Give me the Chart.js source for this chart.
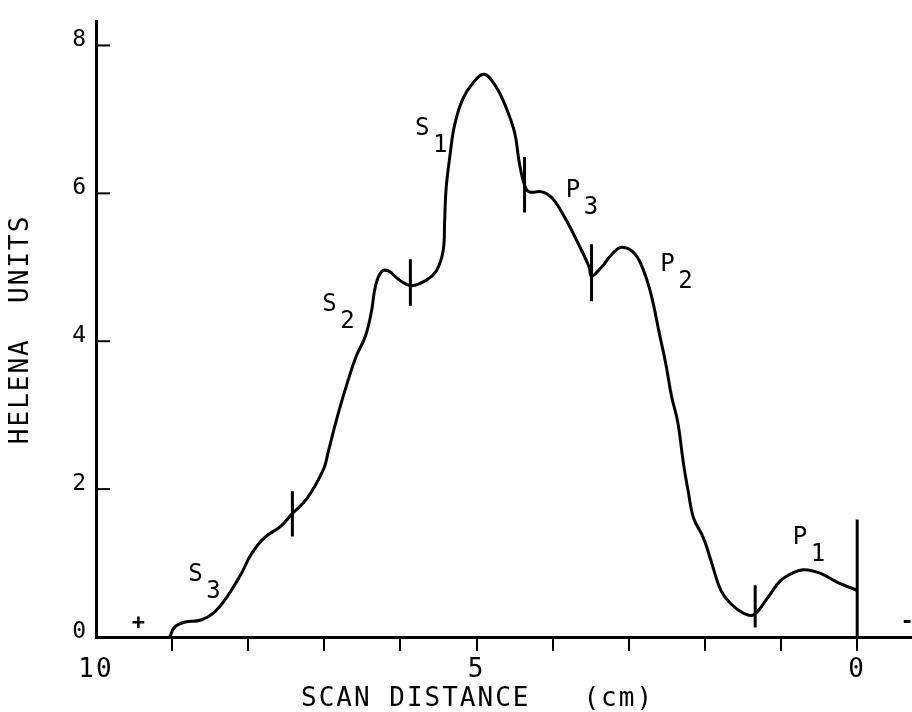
<!DOCTYPE html>
<html>
<head>
<meta charset="utf-8">
<script src="https://cdn.jsdelivr.net/npm/chart.js@4"></script>
<style>
  html, body { margin: 0; background: #fff; }
  #wrap { width: 912px; height: 712px; }
</style>
</head>
<body>
<div id="wrap"><canvas id="myChart"></canvas></div>
<script>
// axis ticks
var xTicks = [0, 1, 2, 3, 4, 5, 6, 7, 8, 9, 10];
var xLabelled = [10, 5, 0];
var yTicks = [0, 2, 4, 6, 8];

// densitometer scan
var scanX = [9.03, 8.97, 8.84, 8.62, 8.45, 8.28, 8.09, 7.96, 7.79, 7.57, 7.43, 7.23, 7.01,
  6.95, 6.84, 6.71, 6.58, 6.46, 6.38, 6.33, 6.25, 6.16, 6.03, 5.94, 5.84, 5.67, 5.53, 5.44,
  5.42, 5.40, 5.35, 5.29, 5.18, 5.05, 4.90, 4.75, 4.62, 4.50, 4.44, 4.37, 4.31, 4.14, 4.01,
  3.84, 3.66, 3.52, 3.49, 3.36, 3.22, 3.09, 2.92, 2.79, 2.70, 2.60, 2.51, 2.44, 2.36, 2.28,
  2.22, 2.15, 2.02, 1.92, 1.79, 1.66, 1.49, 1.36, 1.17, 1.01, 0.84, 0.70, 0.48, 0.26, 0.0];
var helena = [0, 0.13, 0.20, 0.23, 0.33, 0.54, 0.86, 1.12, 1.34, 1.50, 1.66, 1.87, 2.27,
  2.50, 2.94, 3.40, 3.80, 4.07, 4.41, 4.74, 4.94, 4.95, 4.84, 4.78, 4.75, 4.82, 4.95, 5.22,
  5.62, 6.07, 6.51, 6.92, 7.28, 7.49, 7.61, 7.45, 7.18, 6.82, 6.42, 6.11, 6.02, 6.02, 5.94,
  5.67, 5.31, 5.00, 4.88, 5.00, 5.18, 5.27, 5.18, 4.91, 4.60, 4.11, 3.67, 3.26, 2.92, 2.33,
  1.97, 1.61, 1.34, 1.03, 0.63, 0.45, 0.32, 0.30, 0.54, 0.76, 0.87, 0.91, 0.86, 0.74, 0.63];

// fraction boundary marks
var markX = [7.42, 5.87, 4.37, 3.49, 1.34, 0];
var markLow = [1.36, 4.48, 5.74, 4.54, 0.13, 0];
var markHigh = [1.97, 5.11, 6.49, 5.31, 0.70, 1.59];

// peak names
var peakName = ["S", "S", "S", "P", "P", "P"];
var peakSub = ["1", "2", "3", "3", "2", "1"];
var peakX = [5.70, 6.92, 8.68, 3.72, 2.48, 0.74];
var peakY = [6.88, 4.49, 0.84, 6.03, 5.03, 1.34];

// electrode signs
var signText = ["+", "-"];
var signX = [9.43, -0.67];
var signY = [0.19, 0.20];

var FONT = "'DejaVu Sans Mono', monospace";

var datasets = [{
  data: scanX.map(function(x, i) { return { x: x, y: helena[i] }; }),
  borderColor: "#000",
  borderWidth: 3,
  pointRadius: 0,
  tension: 0.4,
  fill: false
}];
markX.forEach(function(x, i) {
  datasets.push({
    data: [{ x: x, y: markLow[i] }, { x: x, y: markHigh[i] }],
    borderColor: "#000",
    borderWidth: 3,
    pointRadius: 0
  });
});

var spacing = {
  id: "spacing",
  beforeDraw: function(chart) {
    chart.ctx.letterSpacing = "2px";
  }
};

var notes = {
  id: "notes",
  afterDraw: function(chart) {
    var ctx = chart.ctx, xs = chart.scales.x, ys = chart.scales.y;
    ctx.save();
    // inward y ticks
    var x0 = xs.getPixelForValue(10);
    ctx.strokeStyle = "#000";
    ctx.lineWidth = 2;
    yTicks.forEach(function(v) {
      if (v === 0) return;
      var py = ys.getPixelForValue(v);
      ctx.beginPath();
      ctx.moveTo(x0, py);
      ctx.lineTo(x0 + 14, py);
      ctx.stroke();
    });
    ctx.fillStyle = "#000";
    ctx.textAlign = "center";
    ctx.textBaseline = "middle";
    ctx.font = "24px " + FONT;
    peakName.forEach(function(n, i) {
      var px = xs.getPixelForValue(peakX[i]);
      var py = ys.getPixelForValue(peakY[i]);
      ctx.fillText(n, px, py);
      ctx.fillText(peakSub[i], px + 18, py + 17);
    });
    ctx.font = "bold 22px " + FONT;
    signText.forEach(function(s, i) {
      ctx.fillText(s, xs.getPixelForValue(signX[i]), ys.getPixelForValue(signY[i]));
    });
    ctx.restore();
  }
};

var ctx = document.getElementById("myChart").getContext("2d");
new Chart(ctx, {
  type: "line",
  data: { datasets: datasets },
  options: {
    responsive: true,
    maintainAspectRatio: false,
    animation: false,
    layout: { padding: { top: 15, right: 0, left: 0, bottom: 0 } },
    plugins: { legend: { display: false }, tooltip: { enabled: false } },
    scales: {
      x: {
        type: "linear",
        reverse: true,
        min: -0.72,
        max: 10,
        border: { color: "#000", width: 3 },
        grid: {
          drawOnChartArea: false,
          color: function(c) { return c.tick && c.tick.value === 10 ? "rgba(0,0,0,0)" : "#000"; },
          lineWidth: 2,
          tickLength: 14
        },
        afterBuildTicks: function(s) {
          s.ticks = xTicks.map(function(v) { return { value: v }; });
        },
        afterFit: function(s) { s.height = 75; },
        ticks: {
          color: "#000",
          padding: 4,
          maxRotation: 0,
          autoSkip: false,
          font: { family: FONT, size: 26 },
          callback: function(v) { return xLabelled.indexOf(v) >= 0 ? String(v) : ""; }
        },
        title: {
          display: true,
          text: "SCAN DISTANCE   (cm)   ",
          color: "#000",
          font: { family: FONT, size: 26 },
          padding: { top: 0, bottom: -3 }
        }
      },
      y: {
        min: 0,
        max: 8.32,
        border: { color: "#000", width: 3 },
        grid: { drawOnChartArea: false, drawTicks: false },
        afterBuildTicks: function(s) {
          s.ticks = yTicks.map(function(v) { return { value: v }; });
        },
        afterFit: function(s) { s.width = 96; },
        ticks: {
          color: "#000",
          padding: 8,
          labelOffset: -5,
          font: { family: FONT, size: 23 }
        },
        title: {
          display: true,
          text: "HELENA  UNITS",
          color: "#000",
          font: { family: FONT, size: 26 },
          padding: { top: 6, bottom: 0 }
        }
      }
    }
  },
  plugins: [spacing, notes]
});
</script>
</body>
</html>
